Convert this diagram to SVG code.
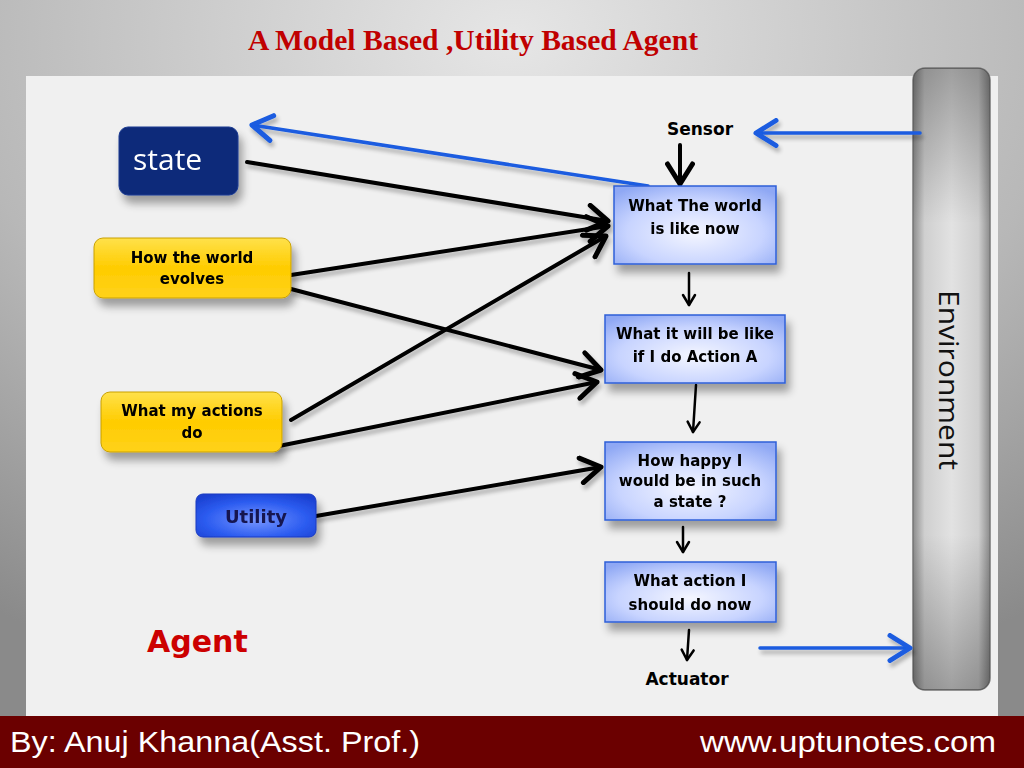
<svg xmlns="http://www.w3.org/2000/svg" width="1024" height="768" viewBox="0 0 1024 768">
<defs>
<radialGradient id="bg" cx="0.5" cy="0.05" r="0.9">
<stop offset="0" stop-color="#e6e6e6"/><stop offset="0.6" stop-color="#b8b8b8"/><stop offset="1" stop-color="#8a8a8a"/>
</radialGradient>
<linearGradient id="yel" x1="0" y1="0" x2="0" y2="1">
<stop offset="0" stop-color="#ffe14a"/><stop offset="0.5" stop-color="#ffcc00"/><stop offset="1" stop-color="#ffd21a"/>
</linearGradient>
<radialGradient id="lb" cx="0.5" cy="0.6" r="0.7">
<stop offset="0" stop-color="#f4f6ff"/><stop offset="0.6" stop-color="#c8d4ff"/><stop offset="1" stop-color="#8fa8f4"/>
</radialGradient>
<radialGradient id="ub" cx="0.5" cy="0.6" r="0.7">
<stop offset="0" stop-color="#7796ff"/><stop offset="0.6" stop-color="#2c5cf0"/><stop offset="1" stop-color="#1a3fd0"/>
</radialGradient>
<linearGradient id="envh" x1="0" y1="0" x2="1" y2="0">
<stop offset="0" stop-color="#8c8c8c"/><stop offset="0.15" stop-color="#cfcfcf"/><stop offset="0.5" stop-color="#e2e2e2"/><stop offset="0.85" stop-color="#cfcfcf"/><stop offset="1" stop-color="#8c8c8c"/>
</linearGradient>
<linearGradient id="envv" x1="0" y1="0" x2="0" y2="1">
<stop offset="0" stop-color="#000" stop-opacity="0.3"/><stop offset="0.25" stop-color="#000" stop-opacity="0"/><stop offset="0.75" stop-color="#000" stop-opacity="0"/><stop offset="1" stop-color="#000" stop-opacity="0.3"/>
</linearGradient>
<filter id="sh" x="-20%" y="-20%" width="150%" height="170%">
<feGaussianBlur in="SourceAlpha" stdDeviation="4"/><feOffset dx="4" dy="8"/>
<feComponentTransfer><feFuncA type="linear" slope="0.35"/></feComponentTransfer>
<feMerge><feMergeNode/><feMergeNode in="SourceGraphic"/></feMerge>
</filter>
<filter id="lsh" x="-10%" y="-50%" width="120%" height="200%">
<feGaussianBlur in="SourceAlpha" stdDeviation="2"/><feOffset dx="2" dy="4"/>
<feComponentTransfer><feFuncA type="linear" slope="0.3"/></feComponentTransfer>
<feMerge><feMergeNode/><feMergeNode in="SourceGraphic"/></feMerge>
</filter>
<marker id="ab" markerUnits="userSpaceOnUse" markerWidth="30" markerHeight="30" refX="20" refY="12" orient="auto" viewBox="0 0 24 24">
<path d="M4,2 L20,12 L4,22" fill="none" stroke="#000" stroke-width="4" stroke-linecap="round" stroke-linejoin="round"/>
</marker>
<marker id="as" markerUnits="userSpaceOnUse" markerWidth="16" markerHeight="16" refX="13" refY="8" orient="auto" viewBox="0 0 16 16">
<path d="M3,2 L13,8 L3,14" fill="none" stroke="#000" stroke-width="2.5" stroke-linecap="round" stroke-linejoin="round"/>
</marker>
<marker id="abl" markerUnits="userSpaceOnUse" markerWidth="30" markerHeight="30" refX="20" refY="12" orient="auto" viewBox="0 0 24 24">
<path d="M4,2 L20,12 L4,22" fill="none" stroke="#1a5ce0" stroke-width="4" stroke-linecap="round" stroke-linejoin="round"/>
</marker>
</defs>
<style>
.bl{fill:none;stroke:#000;stroke-width:4;stroke-linecap:round}
.th{fill:none;stroke:#000;stroke-width:2.5;stroke-linecap:round}
.bu{fill:none;stroke:#1a5ce0;stroke-width:3.5;stroke-linecap:round}
.lbx{fill:url(#lb);stroke:#2f5fd8;stroke-width:1.5}
.yb{fill:url(#yel);stroke:#c9a000;stroke-width:1}
.t{font-family:Tahoma,"DejaVu Sans","Liberation Sans",sans-serif;font-weight:bold;font-size:15px;text-anchor:middle;fill:#000}
</style>
<rect width="1024" height="768" fill="url(#bg)"/>
<rect x="26" y="76" width="972" height="640" fill="#f0f0f0"/>
<rect x="0" y="716" width="1024" height="52" fill="#6b0000"/>
<text x="248" y="50" font-family="Liberation Serif,serif" font-weight="bold" font-size="29" fill="#c00000" textLength="450" lengthAdjust="spacingAndGlyphs">A Model Based ,Utility Based Agent</text>
<text x="10" y="752" font-family="Liberation Sans,Arial,sans-serif" font-size="29" fill="#fff" textLength="410" lengthAdjust="spacingAndGlyphs">By: Anuj Khanna(Asst. Prof.)</text>
<text x="700" y="752" font-family="Liberation Sans,Arial,sans-serif" font-size="29" fill="#fff" textLength="296" lengthAdjust="spacingAndGlyphs">www.uptunotes.com</text>

<g id="environment">
<rect x="913" y="68" width="77" height="622" rx="12" fill="url(#envh)" stroke="#777" stroke-width="1.5"/>
<rect x="913" y="68" width="77" height="622" rx="12" fill="url(#envv)"/>
<text transform="translate(939,380) rotate(90)" font-family="Open Sans,Liberation Sans,sans-serif" font-size="28" fill="#111" text-anchor="middle" textLength="180" lengthAdjust="spacingAndGlyphs">Environment</text>
</g>

<g id="connectors">
<g filter="url(#lsh)">
<line class="bl" x1="247" y1="162" x2="608" y2="221" marker-end="url(#ab)"/>
<line class="bl" x1="291" y1="275" x2="608" y2="226" marker-end="url(#ab)"/>
<line class="bl" x1="291" y1="289" x2="601" y2="370" marker-end="url(#ab)"/>
<line class="bl" x1="291" y1="420" x2="606" y2="236" marker-end="url(#ab)"/>
<line class="bl" x1="274" y1="447" x2="597" y2="382" marker-end="url(#ab)"/>
<line class="bl" x1="316" y1="516" x2="601" y2="467" marker-end="url(#ab)"/>
<line class="bu" x1="648" y1="186" x2="252" y2="125" marker-end="url(#abl)"/>
<line class="bu" x1="920" y1="133" x2="756" y2="133" marker-end="url(#abl)"/>
<line class="bu" x1="760" y1="648" x2="910" y2="648" marker-end="url(#abl)"/>
</g>
<line class="bl" x1="680" y1="145" x2="680" y2="184" marker-end="url(#ab)"/>
<line class="th" x1="689" y1="273" x2="689" y2="305" marker-end="url(#as)"/>
<line class="th" x1="696" y1="385" x2="693" y2="432" marker-end="url(#as)"/>
<line class="th" x1="683" y1="527" x2="683" y2="552" marker-end="url(#as)"/>
<line class="th" x1="689" y1="630" x2="687" y2="660" marker-end="url(#as)"/>
</g>

<g id="state" filter="url(#sh)">
<rect x="119" y="127" width="119" height="68" rx="9" fill="#0b2a7a" stroke="#1b3a90"/>
<text x="133" y="170" font-family="Open Sans,Liberation Sans,sans-serif" font-size="30" fill="#fff">state</text>
</g>
<g id="evolves" filter="url(#sh)">
<rect class="yb" x="94" y="238" width="197" height="60" rx="9"/>
<text class="t" x="192" y="263">How the world</text>
<text class="t" x="192" y="284">evolves</text>
</g>
<g id="actions" filter="url(#sh)">
<rect class="yb" x="101" y="392" width="181" height="60" rx="9"/>
<text class="t" x="192" y="416">What my actions</text>
<text class="t" x="192" y="438">do</text>
</g>
<g id="utility" filter="url(#sh)">
<rect x="196" y="494" width="120" height="43" rx="7" fill="url(#ub)" stroke="#1a3ac0"/>
<text class="t" x="256" y="523" style="font-size:18px;fill:#141450">Utility</text>
</g>

<g id="sensor"><text class="t" x="700" y="135" style="font-size:17px">Sensor</text></g>
<g id="actuator"><text class="t" x="687" y="685" style="font-size:17px">Actuator</text></g>
<g id="agent"><text x="147" y="652" font-family="Tahoma,DejaVu Sans,Liberation Sans,sans-serif" font-weight="bold" font-size="30" fill="#cc0000">Agent</text></g>

<g id="world-now" filter="url(#sh)">
<rect class="lbx" x="614" y="186" width="162" height="78"/>
<text class="t" x="695" y="211">What The world</text>
<text class="t" x="695" y="234">is like now</text>
</g>
<g id="will-be" filter="url(#sh)">
<rect class="lbx" x="605" y="315" width="180" height="68"/>
<text class="t" x="695" y="339">What it will be like</text>
<text class="t" x="695" y="362">if I do Action A</text>
</g>
<g id="happy" filter="url(#sh)">
<rect class="lbx" x="605" y="442" width="171" height="78"/>
<text class="t" x="690" y="466">How happy I</text>
<text class="t" x="690" y="486">would be in such</text>
<text class="t" x="690" y="507">a state ?</text>
</g>
<g id="action" filter="url(#sh)">
<rect class="lbx" x="605" y="562" width="171" height="60"/>
<text class="t" x="690" y="586">What action I</text>
<text class="t" x="690" y="610">should do now</text>
</g>
</svg>
